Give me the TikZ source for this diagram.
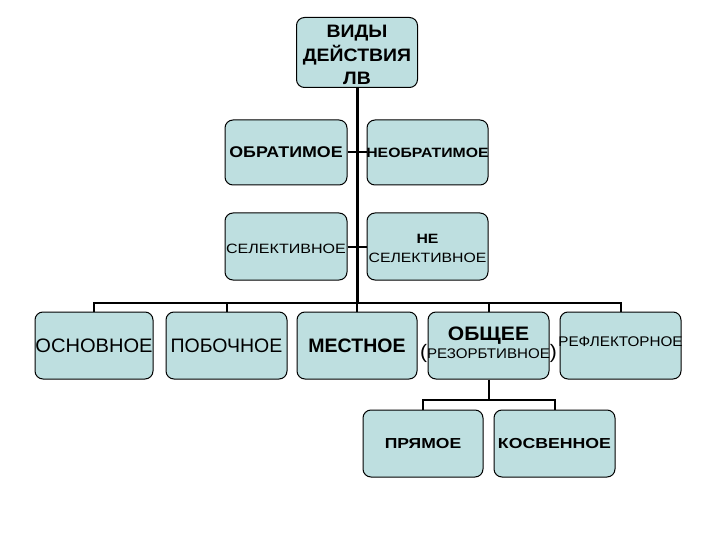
\documentclass[tikz,border=0pt]{standalone}
\usepackage{fontspec}
\setmainfont{Liberation Sans}
\usepackage{graphicx}
\definecolor{boxfill}{RGB}{190,223,224}
\newcommand{\fsz}[1]{\fontsize{#1}{#1}\selectfont}
\newcommand{\wtxt}[2]{\makebox[0pt]{\scalebox{#1}[1]{#2}}}
\newcommand{\shiftv}[2]{\raisebox{#1}[\height][\depth]{#2}}
\tikzset{
  box/.style 2 args={draw=black, line width=1pt, fill=boxfill,
    rounded corners=8pt, inner sep=0pt, minimum width=#1pt, minimum height=#2pt},
  trunk/.style={line width=3pt, black},
  conn/.style={line width=2pt, black}
}
\begin{document}
\begin{tikzpicture}[x=1pt,y=-1pt]
\useasboundingbox (0,0) rectangle (720,540);
% boxes
\node[box={121}{70}] (top) at (357,52.5)
  {\shiftv{-4pt}{\wtxt{1.08}{\fontsize{18}{23}\selectfont\bfseries\begin{tabular}{@{}c@{}}ВИДЫ\\ДЕЙСТВИЯ\\ЛВ\end{tabular}}}};
\node[box={122}{65}] (obr) at (286,152.5) {\wtxt{1.15}{\fsz{15.5}\bfseries ОБРАТИМОЕ}};
\node[box={121}{65}] (neobr) at (427.5,152.5) {\wtxt{1.17}{\fsz{13.5}\bfseries НЕОБРАТИМОЕ}};
\node[box={122}{67}] (sel) at (286,246.5) {\shiftv{-2pt}{\wtxt{1.19}{\fsz{13.5}СЕЛЕКТИВНОЕ}}};
\node[box={121}{67}] (nesel) at (427.5,246.5)
  {\shiftv{-3pt}{\wtxt{1.17}{\fontsize{13.5}{19}\selectfont\begin{tabular}{@{}c@{}}\bfseries НЕ\\СЕЛЕКТИВНОЕ\end{tabular}}}};
\node[box={118}{67}] (osn) at (94,345.5) {\wtxt{1.03}{\fsz{19.5}ОСНОВНОЕ}};
\node[box={121}{67}] (pob) at (226.5,345.5) {\wtxt{1.0}{\fsz{19.5}ПОБОЧНОЕ}};
\node[box={120}{67}] (mes) at (357,345.5) {\wtxt{1.0}{\fsz{19.5}\bfseries МЕСТНОЕ}};
\node[box={121}{67}] (obsh) at (488.5,345.5)
  {\wtxt{1.08}{\fontsize{14}{18}\selectfont\begin{tabular}{@{}c@{}}{\fsz{19.5}\bfseries ОБЩЕЕ}\\[-2pt]{\fsz{19.5}(}РЕЗОРБТИВНОЕ{\fsz{19.5})}\end{tabular}}};
\node[box={121}{67}] (refl) at (620.5,345.5) {\shiftv{4pt}{\wtxt{1.09}{\fsz{14}РЕФЛЕКТОРНОЕ}}};
\node[box={120}{67}] (pry) at (423,443.5) {\wtxt{1.21}{\fsz{14.5}\bfseries ПРЯМОЕ}};
\node[box={121}{67}] (kos) at (554.5,443.5) {\wtxt{1.22}{\fsz{14.5}\bfseries КОСВЕННОЕ}};
% connectors
\coordinate (b) at (357,303);
\coordinate (b2) at (488.5,400);
\draw[trunk] (top.south) -- (b);
\draw[conn] (obr.east) -- (neobr.west);
\draw[conn] (sel.east) -- (nesel.west);
\draw[conn] (b) -| (osn.north);
\draw[conn] (b) -| (pob.north);
\draw[conn] (b) -- (mes.north);
\draw[conn] (b) -| (obsh.north);
\draw[conn] (b) -| (refl.north);
\draw[conn] (obsh.south) -- (b2);
\draw[conn] (b2) -| (pry.north);
\draw[conn] (b2) -| (kos.north);
\end{tikzpicture}
\end{document}
